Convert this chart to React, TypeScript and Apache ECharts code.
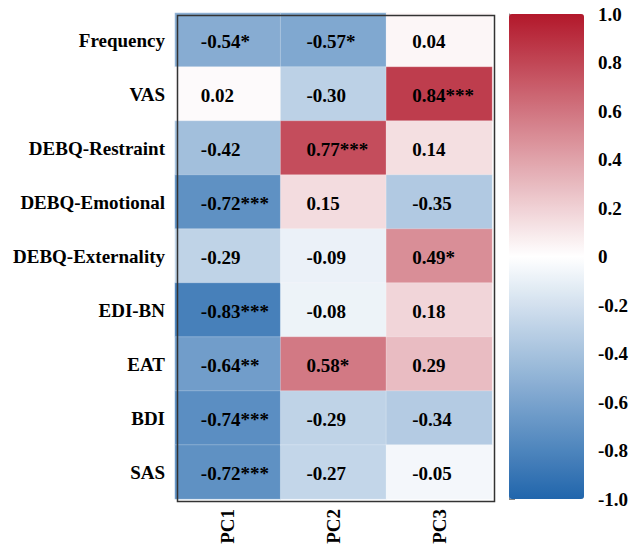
import React, { useEffect, useRef } from "react";
import * as echarts from "echarts";

const variables = [
  "Frequency",
  "VAS",
  "DEBQ-Restraint",
  "DEBQ-Emotional",
  "DEBQ-Externality",
  "EDI-BN",
  "EAT",
  "BDI",
  "SAS",
];
const components = ["PC1", "PC2", "PC3"];

const pc1Values = [-0.54, 0.02, -0.42, -0.72, -0.29, -0.83, -0.64, -0.74, -0.72];
const pc2Values = [-0.57, -0.3, 0.77, 0.15, -0.09, -0.08, 0.58, -0.29, -0.27];
const pc3Values = [0.04, 0.84, 0.14, -0.35, 0.49, 0.18, 0.29, -0.34, -0.05];

const pc1Stars = ["*", "", "", "***", "", "***", "**", "***", "***"];
const pc2Stars = ["*", "", "***", "", "", "", "*", "", ""];
const pc3Stars = ["", "***", "", "", "*", "", "", "", ""];

const FONT = "'Liberation Serif', 'Times New Roman', serif";

export default function App() {
  const ref = useRef<HTMLDivElement>(null);
  useEffect(() => {
    if (!ref.current) return;
    const chart = echarts.init(ref.current, null, { renderer: "svg" });
    const cols = [pc1Values, pc2Values, pc3Values];
    const stars = [pc1Stars, pc2Stars, pc3Stars];
    const data: any[] = [];
    cols.forEach((vals, ci) => {
      vals.forEach((v, ri) => {
        data.push({
          value: [ci, ri, v],
          label: { formatter: v.toFixed(2) + stars[ci][ri] },
        });
      });
    });
    chart.setOption({
      animation: false,
      backgroundColor: "#ffffff",
      grid: [
        {
          left: 175,
          top: 13,
          width: 317,
          height: 486,
          containLabel: false,
          outerBoundsMode: "none",
        },
        {
          left: 509,
          top: 14,
          width: 75,
          height: 485,
          containLabel: false,
          outerBoundsMode: "none",
        },
      ],
      xAxis: [
        {
          type: "category",
          data: components,
          gridIndex: 0,
          axisTick: { show: false },
          axisLine: { show: false },
          splitLine: { show: false },
          axisLabel: {
            rotate: 90,
            margin: 10,
            fontFamily: FONT,
            fontWeight: "bold",
            fontSize: 19,
            color: "#000",
          },
        },
        { type: "value", gridIndex: 1, show: false, min: 0, max: 1 },
      ],
      yAxis: [
        {
          type: "category",
          data: variables,
          inverse: true,
          gridIndex: 0,
          axisTick: { show: false },
          axisLine: { show: false },
          splitLine: { show: false },
          axisLabel: {
            margin: 10,
            fontFamily: FONT,
            fontWeight: "bold",
            fontSize: 19,
            color: "#000",
          },
        },
        {
          type: "value",
          gridIndex: 1,
          position: "right",
          min: -1,
          max: 1,
          interval: 0.2,
          splitLine: { show: false },
          axisLine: { show: true, lineStyle: { color: "#888", width: 1 } },
          axisTick: { show: true, length: 6, lineStyle: { color: "#888" } },
          axisLabel: {
            margin: 14,
            fontFamily: FONT,
            fontWeight: "bold",
            fontSize: 19,
            color: "#000",
            formatter: (v: number) =>
              Math.abs(v) < 1e-9 ? "0" : v.toFixed(1),
          },
        },
      ],
      visualMap: {
        type: "continuous",
        min: -1,
        max: 1,
        calculable: false,
        orient: "vertical",
        left: 509,
        top: 14,
        itemWidth: 75,
        itemHeight: 485,
        padding: 0,
        text: null,
        seriesIndex: 0,
        inRange: { color: ["#2166ac", "#ffffff", "#b2182b"] },
      },
      series: [
        {
          type: "heatmap",
          xAxisIndex: 0,
          yAxisIndex: 0,
          data,
          itemStyle: { borderColor: "rgba(255,255,255,0.3)", borderWidth: 0.8 },
          label: {
            show: true,
            position: "inside",
            align: "left",
            offset: [-27, 1],
            fontFamily: FONT,
            fontWeight: "bold",
            fontSize: 19,
            color: "#000",
          },
          emphasis: { disabled: true },
        },
      ],
      graphic: [
        {
          type: "rect",
          left: 175,
          top: 13,
          shape: { x: 0, y: 0, width: 317, height: 486 },
          style: { fill: "none", stroke: "#333", lineWidth: 1.5 },
          z: 100,
          silent: true,
        },
      ],
    });
    return () => chart.dispose();
  }, []);
  return (
    <div
      ref={ref}
      style={{ position: "absolute", left: 0, top: 0, width: 629, height: 545 }}
    />
  );
}
